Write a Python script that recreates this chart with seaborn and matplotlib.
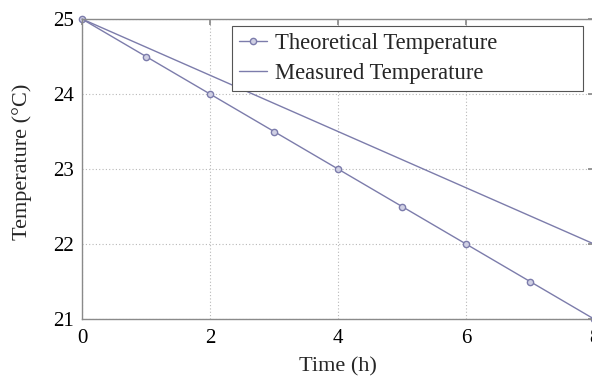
import numpy as np
import pandas as pd
import matplotlib
matplotlib.use("Agg")
import matplotlib.pyplot as plt
import seaborn as sns

hours = [0, 1, 2, 3, 4, 5, 6, 7, 8]
theoretical = [25.0, 24.5, 24.0, 23.5, 23.0, 22.5, 22.0, 21.5, 21.0]
measured_hours = [0, 8]
measured = [25.0, 22.0]
x_ticks = [0, 2, 4, 6, 8]
y_ticks = [21, 22, 23, 24, 25]

sns.set_theme(style="white")
plt.rcParams['font.family'] = ['Liberation Serif', 'DejaVu Serif']

line_color = '#7c7cab'

W, H = 592, 376
fig = plt.figure(figsize=(W / 100, H / 100), dpi=100)
ax_l, ax_r, ax_t, ax_b = 82, 594, 19, 319
ax = fig.add_axes([ax_l / W, (H - ax_b) / H, (ax_r - ax_l) / W, (ax_b - ax_t) / H])

df_t = pd.DataFrame({'Time': hours, 'Temp': theoretical})
df_m = pd.DataFrame({'Time': measured_hours, 'Temp': measured})

sns.lineplot(data=df_t, x='Time', y='Temp', ax=ax, color=line_color, lw=1.0,
             marker='o', markersize=4.5, markerfacecolor='#d0d0e4',
             markeredgecolor=line_color, markeredgewidth=1.0,
             label='Theoretical Temperature', clip_on=False)
sns.lineplot(data=df_m, x='Time', y='Temp', ax=ax, color=line_color, lw=1.0,
             label='Measured Temperature', clip_on=False)

ax.set_xlim(0, 8)
ax.set_ylim(21, 25)
ax.set_xticks(x_ticks)
ax.set_yticks(y_ticks)
ax.set_xticklabels([str(v) for v in x_ticks])
ax.set_yticklabels([str(v) for v in y_ticks])

ax.grid(True, linestyle=(0, (1, 2)), color='#b8b8b8', lw=0.8)
for s in ax.spines.values():
    s.set_color('#8a8a8a')
    s.set_linewidth(1.0)
    s.set_visible(True)

ax.tick_params(axis='both', direction='in', length=4, color='#8a8a8a',
               labelsize=15, colors='black', top=True, right=True)
ax.tick_params(axis='x', pad=7)
ax.tick_params(axis='y', pad=6)

ax.set_xlabel('Time (h)', fontsize=16, labelpad=7)
ax.set_ylabel('Temperature (°C)', fontsize=16)
ax.yaxis.set_label_coords(-0.097, 0.523)

ax_w = ax_r - ax_l
ax_h = ax_b - ax_t
x0 = (232 - ax_l) / ax_w
x1 = (583 - ax_l) / ax_w
y1 = (ax_b - 26) / ax_h
leg = ax.legend(loc='upper left', bbox_to_anchor=(x0, y1 - 0.3, x1 - x0, 0.3),
                mode='expand', fontsize=16.3,
                frameon=True, fancybox=False, edgecolor='#555555',
                borderpad=0.3, handlelength=1.25, handletextpad=0.35,
                labelspacing=0.4, borderaxespad=0)
leg.get_frame().set_linewidth(0.8)
leg.get_frame().set_alpha(1.0)

fig.savefig('out.png', dpi=100)
